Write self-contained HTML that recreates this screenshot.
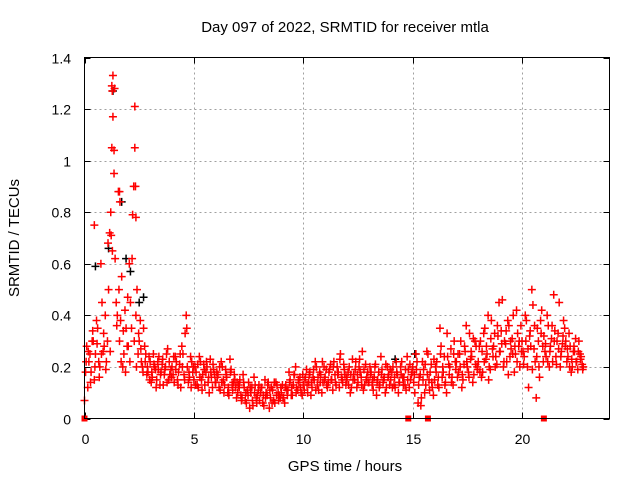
<!DOCTYPE html>
<html><head><meta charset="utf-8"><style>
html,body{margin:0;padding:0;background:#fff;}
svg{display:block;font-family:"Liberation Sans",Arial,sans-serif;}
</style></head><body>
<svg id="chart" width="640" height="480" viewBox="0 0 640 480">
<text x="345" y="32" font-size="15" text-anchor="middle">Day 097 of 2022, SRMTID for receiver mtla</text>
<text x="345" y="471" font-size="15" text-anchor="middle">GPS time / hours</text>
<text transform="translate(19,238) rotate(-90)" font-size="15" text-anchor="middle">SRMTID / TECUs</text>
<g id="grid"></g>
<g id="ticks"></g>
<g id="marks"></g>
<rect x="84.5" y="57.5" width="525" height="361" fill="none" stroke="#000" stroke-width="1"/>
</svg>
<script>
const xTicks=[0,5,10,15,20];
const yTicks=[0,0.2,0.4,0.6,0.8,1,1.2,1.4];
const yTickLabels=["0","0.2","0.4","0.6","0.8","1","1.2","1.4"];
const sampleStep=0.1;
const seriesAStart=0.0;
const seriesA=[0.07,0.28,0.22,0.18,0.30,0.25,0.35,0.20,0.45,0.28,
0.22,0.50,0.80,1.33,0.62,0.40,0.30,0.55,0.25,0.35,
0.28,0.45,0.79,1.21,0.50,0.30,0.22,0.35,0.25,0.18,
0.22,0.16,0.20,0.15,0.24,0.18,0.13,0.20,0.27,0.17,
0.20,0.14,0.22,0.18,0.12,0.25,0.33,0.20,0.16,0.22,
0.15,0.18,0.12,0.22,0.17,0.13,0.20,0.10,0.16,0.19,
0.14,0.17,0.11,0.20,0.13,0.16,0.09,0.19,0.14,0.12,
0.10,0.15,0.08,0.12,0.06,0.14,0.10,0.05,0.13,0.09,
0.07,0.12,0.05,0.10,0.14,0.08,0.11,0.06,0.13,0.09,
0.10,0.08,0.13,0.11,0.15,0.09,0.17,0.12,0.14,0.10,
0.13,0.16,0.10,0.18,0.12,0.15,0.20,0.11,0.17,0.14,
0.16,0.12,0.19,0.15,0.22,0.13,0.18,0.25,0.14,0.17,
0.15,0.20,0.12,0.17,0.22,0.14,0.18,0.26,0.13,0.16,
0.14,0.18,0.11,0.21,0.15,0.13,0.19,0.16,0.12,0.17,
0.15,0.20,0.12,0.17,0.14,0.22,0.16,0.11,0.19,0.15,
0.20,0.10,0.22,0.16,0.08,0.19,0.13,0.25,0.18,0.12,
0.15,0.22,0.12,0.28,0.18,0.14,0.24,0.20,0.16,0.30,
0.22,0.18,0.30,0.15,0.26,0.20,0.33,0.24,0.17,0.28,
0.22,0.30,0.18,0.35,0.25,0.20,0.38,0.28,0.24,0.32,
0.26,0.46,0.30,0.22,0.36,0.27,0.40,0.25,0.33,0.20,
0.30,0.24,0.38,0.12,0.28,0.44,0.22,0.35,0.16,0.42,
0.32,0.24,0.36,0.28,0.22,0.34,0.30,0.45,0.26,0.38,
0.30,0.24,0.28,0.20,0.26,0.22,0.30,0.24,0.20];
const seriesBStart=0.05;
const seriesB=[0.18,0.12,0.25,0.30,0.15,0.38,0.22,0.60,0.26,0.40,
0.30,0.72,1.05,0.95,0.45,0.88,0.38,0.20,0.42,0.28,
0.60,0.35,0.90,0.40,0.25,0.38,0.20,0.28,0.17,0.24,
0.14,0.25,0.19,0.22,0.13,0.21,0.17,0.25,0.15,0.19,
0.17,0.24,0.15,0.21,0.28,0.17,0.40,0.14,0.24,0.18,
0.20,0.13,0.24,0.15,0.21,0.18,0.14,0.23,0.12,0.17,
0.18,0.12,0.22,0.15,0.19,0.10,0.23,0.13,0.17,0.08,
0.13,0.09,0.17,0.07,0.11,0.04,0.12,0.16,0.08,0.11,
0.10,0.06,0.15,0.09,0.04,0.12,0.07,0.14,0.10,0.08,
0.13,0.06,0.11,0.18,0.09,0.13,0.20,0.11,0.16,0.09,
0.11,0.19,0.14,0.09,0.16,0.22,0.13,0.18,0.10,0.20,
0.19,0.14,0.21,0.11,0.17,0.20,0.12,0.16,0.21,0.13,
0.18,0.10,0.23,0.15,0.12,0.20,0.16,0.11,0.21,0.18,
0.20,0.13,0.16,0.09,0.18,0.24,0.14,0.10,0.20,0.13,
0.18,0.13,0.22,0.10,0.20,0.16,0.13,0.24,0.12,0.17,
0.14,0.25,0.06,0.17,0.22,0.10,0.26,0.15,0.21,0.09,
0.20,0.13,0.35,0.16,0.24,0.10,0.21,0.27,0.13,0.22,
0.16,0.25,0.12,0.21,0.36,0.18,0.23,0.14,0.30,0.20,
0.28,0.16,0.33,0.23,0.40,0.19,0.27,0.33,0.21,0.45,
0.34,0.20,0.29,0.38,0.24,0.31,0.18,0.42,0.28,0.36,
0.26,0.40,0.20,0.32,0.50,0.27,0.08,0.30,0.38,0.28,
0.26,0.40,0.20,0.31,0.48,0.24,0.33,0.20,0.29,0.35,
0.22,0.33,0.18,0.26,0.31,0.19,0.25,0.21];
const seriesCStart=0.075;
const seriesC=[0.22,0.26,0.14,0.34,0.20,0.29,0.16,0.25,0.33,0.19,
0.68,0.26,0.65,1.28,0.36,0.50,0.22,0.34,0.18,0.47,
0.22,0.62,0.30,0.20,0.33,0.27,0.18,0.22,0.20,0.15,
0.18,0.21,0.12,0.19,0.17,0.23,0.19,0.14,0.22,0.16,
0.24,0.19,0.13,0.25,0.20,0.15,0.35,0.18,0.12,0.20,
0.13,0.21,0.16,0.11,0.19,0.22,0.16,0.18,0.21,0.14,
0.16,0.20,0.14,0.10,0.17,0.12,0.18,0.11,0.15,0.14,
0.12,0.07,0.14,0.10,0.09,0.12,0.07,0.10,0.06,0.13,
0.12,0.09,0.08,0.13,0.11,0.06,0.14,0.09,0.07,0.12,
0.08,0.12,0.09,0.14,0.12,0.17,0.10,0.15,0.12,0.17,
0.15,0.13,0.17,0.14,0.19,0.11,0.16,0.14,0.22,0.15,
0.13,0.18,0.15,0.20,0.14,0.17,0.23,0.15,0.19,0.16,
0.13,0.17,0.15,0.19,0.17,0.23,0.13,0.19,0.15,0.14,
0.17,0.15,0.20,0.14,0.12,0.17,0.15,0.21,0.16,0.19,
0.12,0.16,0.18,0.14,0.17,0.13,0.19,0.15,0.21,0.18,
0.17,0.19,0.13,0.05,0.15,0.21,0.17,0.11,0.14,0.23,
0.18,0.16,0.25,0.20,0.13,0.33,0.17,0.14,0.25,0.19,
0.25,0.20,0.17,0.28,0.22,0.16,0.26,0.31,0.21,0.19,
0.18,0.26,0.22,0.28,0.15,0.31,0.24,0.20,0.36,0.26,
0.29,0.22,0.34,0.17,0.30,0.25,0.28,0.22,0.30,0.26,
0.21,0.30,0.27,0.34,0.19,0.36,0.24,0.20,0.33,0.22,
0.29,0.22,0.26,0.36,0.30,0.21,0.27,0.24,0.32,0.28,
0.27,0.20,0.23,0.28,0.22,0.26,0.23,0.19];
const outlierHours=[1.25,1.27,1.3,1.35,1.6,1.62,2.3,2.33,2.35,1.22,0.45];
const outlierValues=[1.29,1.27,1.17,1.04,0.88,0.84,1.05,0.90,0.78,0.71,0.75];
const blackHours=[0.5,1.1,1.3,1.7,1.9,2.1,2.5,2.7,14.2,15.1];
const blackValues=[0.59,0.66,1.27,0.84,0.62,0.57,0.45,0.47,0.23,0.25];
const zeroHours=[0,14.8,15.7,21.0];

const X0=84.5,X1=609.5,Y0=418.5,Y1=57.5,XMAX=24,YMAX=1.4;
function xs(h){return X0+(X1-X0)*h/XMAX;}
function ys(v){return Y0-(Y0-Y1)*v/YMAX;}
const NS="http://www.w3.org/2000/svg";
function mk(tag,attrs,parent){const e=document.createElementNS(NS,tag);for(const k in attrs)e.setAttribute(k,attrs[k]);parent.appendChild(e);return e;}
const grid=document.getElementById('grid'),ticks=document.getElementById('ticks'),marks=document.getElementById('marks');
xTicks.forEach(t=>{const x=Math.round(xs(t))+0.5;
 if(t>0){const g=mk('line',{x1:x,x2:x,y1:Y1,y2:Y0,stroke:'#a0a0a0','stroke-dasharray':'2,3'},grid);
 
 }
 mk('line',{x1:x,x2:x,y1:Y0,y2:Y0-6,stroke:'#000'},ticks);
 mk('line',{x1:x,x2:x,y1:Y1,y2:Y1+6,stroke:'#000'},ticks);
 const lb=mk('text',{x:x,y:444,'font-size':14,'text-anchor':'middle'},ticks);lb.textContent=String(t);
 
 });
yTicks.forEach((t,i)=>{const y=Math.round(ys(t))+0.5;
 if(i>0&&i<yTicks.length-1){const g=mk('line',{x1:X0,x2:X1,y1:y,y2:y,stroke:'#a0a0a0','stroke-dasharray':'2,3'},grid);
 
 }
 mk('line',{x1:X0,x2:X0+6,y1:y,y2:y,stroke:'#000'},ticks);
 mk('line',{x1:X1,x2:X1-6,y1:y,y2:y,stroke:'#000'},ticks);
 const lb=mk('text',{x:71,y:y+5,'font-size':14,'text-anchor':'end'},ticks);lb.textContent=yTickLabels[i];
 
 });
function plus(h,v,col,name){const x=xs(h),y=ys(v);
 const p=mk('path',{d:`M${x-4},${y}H${x+4}M${x},${y-4}V${y+4}`,stroke:col,'stroke-width':1.5,fill:'none'},marks);
 
 }
blackHours.forEach((h,i)=>plus(h,blackValues[i],'#000','black-point'));
seriesA.forEach((v,i)=>plus(seriesAStart+i*sampleStep,v,'#ff0000','red-point'));
seriesB.forEach((v,i)=>plus(seriesBStart+i*sampleStep,v,'#ff0000','red-point'));
seriesC.forEach((v,i)=>plus(seriesCStart+i*sampleStep,v,'#ff0000','red-point'));
outlierHours.forEach((h,i)=>plus(h,outlierValues[i],'#ff0000','red-point'));
zeroHours.forEach(h=>{const r=mk('rect',{x:xs(h)-3,y:ys(0)-3,width:6,height:6,fill:'#ff0000'},marks);
 
 });
</script>
</body></html>
